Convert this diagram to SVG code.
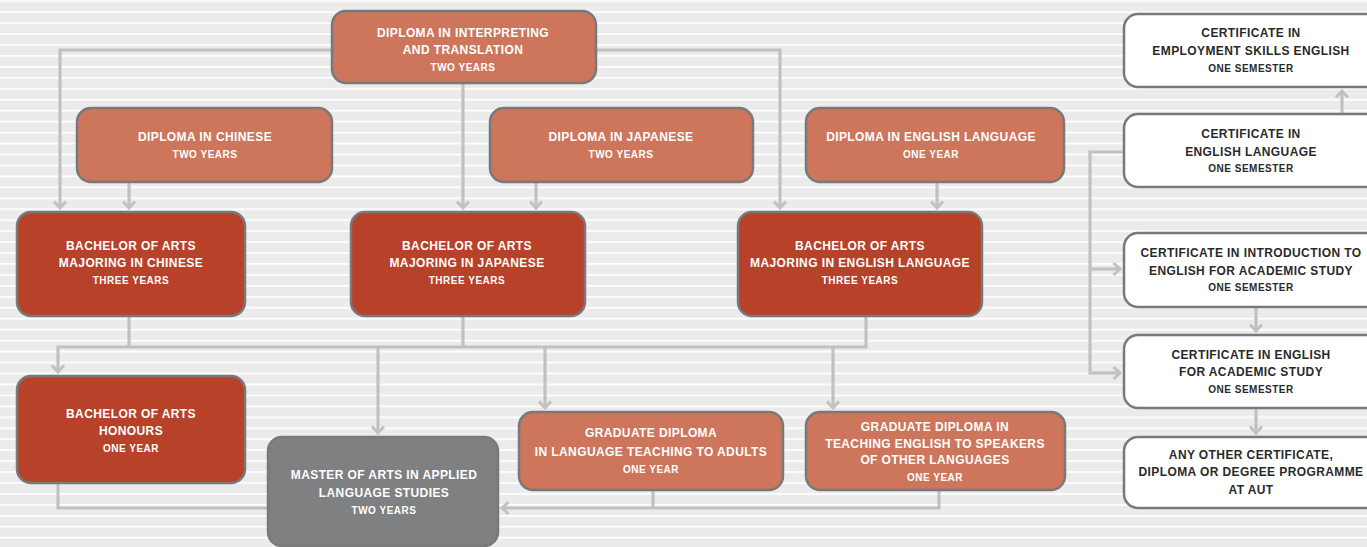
<svg xmlns="http://www.w3.org/2000/svg" width="1367" height="547" viewBox="0 0 1367 547">
<defs>
<pattern id="stripes" x="0" y="0.3" width="20" height="10.95" patternUnits="userSpaceOnUse">
<rect width="20" height="10.95" fill="#ebebeb"/>
<rect y="0" width="20" height="1.7" fill="#ffffff"/>
</pattern>
<marker id="arr" viewBox="-9 -8 11 16" markerWidth="11" markerHeight="16" refX="0" refY="0" orient="auto" markerUnits="userSpaceOnUse">
<path d="M-6.5,-6 L0,0 L-6.5,6" fill="none" stroke="#c1c1c3" stroke-width="3"/>
</marker>
</defs>
<style>
.box{stroke:#77797b;stroke-width:2.5}
.light{fill:#cd765c}
.dark{fill:#b84129}
.gray{fill:#7f8082}
.white{fill:#ffffff}
.t{font-family:"Liberation Sans",Arial,sans-serif;font-weight:bold;text-anchor:middle;font-size:12px;letter-spacing:0.4px}
.s{font-family:"Liberation Sans",Arial,sans-serif;font-weight:bold;text-anchor:middle;font-size:10px;letter-spacing:0.5px}
.w{fill:#ffffff}
.k{fill:#2a2a2a}
.c{fill:none;stroke:#c1c1c3;stroke-width:3.2;stroke-linejoin:miter}
.a{marker-end:url(#arr)}
</style>
<rect width="1367" height="547" fill="url(#stripes)"/>

<g id="connectors">
<path class="c a" d="M332,50 H60 V208"/>
<path class="c a" d="M463,83 V208"/>
<path class="c a" d="M596,50 H780 V208"/>
<path class="c a" d="M129,182 V208"/>
<path class="c a" d="M536,182 V208"/>
<path class="c a" d="M937,182 V208"/>
<path class="c" d="M129,316 V347 M463,316 V347 M866,316 V347 M56.4,347 H867.6"/>
<path class="c a" d="M58,347 V372"/>
<path class="c a" d="M378,347 V433"/>
<path class="c a" d="M545,347 V408"/>
<path class="c a" d="M833,347 V408"/>
<path class="c" d="M58,483 V508 H270"/>
<path class="c" d="M653,490 V508 M939,490 V508"/>
<path class="c a" d="M940.6,508 H502"/>
<path class="c" d="M1126,152 H1090 V371.4"/>
<path class="c a" d="M1088.4,373 H1120"/>
<path class="c a" d="M1090,269 H1120"/>
<path class="c a" d="M1342,114 V91"/>
<path class="c a" d="M1256,307 V331"/>
<path class="c a" d="M1256,408 V433"/>
</g>

<g id="n-interp">
<rect class="box light" x="332" y="11" width="264" height="72" rx="14"/>
<text class="t w" x="463" y="37">DIPLOMA IN INTERPRETING</text>
<text class="t w" x="463" y="54">AND TRANSLATION</text>
<text class="s w" x="463" y="71">TWO YEARS</text>
</g>
<g id="n-dip-chinese">
<rect class="box light" x="77" y="108" width="255" height="74" rx="14"/>
<text class="t w" x="205" y="141">DIPLOMA IN CHINESE</text>
<text class="s w" x="205" y="158">TWO YEARS</text>
</g>
<g id="n-dip-japanese">
<rect class="box light" x="490" y="108" width="263" height="74" rx="14"/>
<text class="t w" x="621" y="141">DIPLOMA IN JAPANESE</text>
<text class="s w" x="621" y="158">TWO YEARS</text>
</g>
<g id="n-dip-english">
<rect class="box light" x="806" y="108" width="258" height="74" rx="14"/>
<text class="t w" x="931" y="141">DIPLOMA IN ENGLISH LANGUAGE</text>
<text class="s w" x="931" y="158">ONE YEAR</text>
</g>
<g id="n-ba-chinese">
<rect class="box dark" x="17" y="212" width="228" height="104" rx="14"/>
<text class="t w" x="131" y="250">BACHELOR OF ARTS</text>
<text class="t w" x="131" y="267">MAJORING IN CHINESE</text>
<text class="s w" x="131" y="284">THREE YEARS</text>
</g>
<g id="n-ba-japanese">
<rect class="box dark" x="351" y="212" width="234" height="104" rx="14"/>
<text class="t w" x="467" y="250">BACHELOR OF ARTS</text>
<text class="t w" x="467" y="267">MAJORING IN JAPANESE</text>
<text class="s w" x="467" y="284">THREE YEARS</text>
</g>
<g id="n-ba-english">
<rect class="box dark" x="738" y="212" width="244" height="104" rx="14"/>
<text class="t w" x="860" y="250">BACHELOR OF ARTS</text>
<text class="t w" x="860" y="267">MAJORING IN ENGLISH LANGUAGE</text>
<text class="s w" x="860" y="284">THREE YEARS</text>
</g>
<g id="n-ba-honours">
<rect class="box dark" x="17" y="376" width="228" height="107" rx="14"/>
<text class="t w" x="131" y="418">BACHELOR OF ARTS</text>
<text class="t w" x="131" y="435">HONOURS</text>
<text class="s w" x="131" y="452">ONE YEAR</text>
</g>
<g id="n-master">
<rect class="box gray" x="268" y="437" width="230" height="109" rx="14"/>
<text class="t w" x="384" y="479">MASTER OF ARTS IN APPLIED</text>
<text class="t w" x="384" y="497">LANGUAGE STUDIES</text>
<text class="s w" x="384" y="514">TWO YEARS</text>
</g>
<g id="n-gd-adults">
<rect class="box light" x="519" y="412" width="264" height="78" rx="14"/>
<text class="t w" x="651" y="437">GRADUATE DIPLOMA</text>
<text class="t w" x="651" y="456">IN LANGUAGE TEACHING TO ADULTS</text>
<text class="s w" x="651" y="473">ONE YEAR</text>
</g>
<g id="n-gd-tesol">
<rect class="box light" x="806" y="412" width="259" height="78" rx="14"/>
<text class="t w" x="935" y="431">GRADUATE DIPLOMA IN</text>
<text class="t w" x="935" y="448">TEACHING ENGLISH TO SPEAKERS</text>
<text class="t w" x="935" y="464">OF OTHER LANGUAGES</text>
<text class="s w" x="935" y="481">ONE YEAR</text>
</g>
<g id="n-cert-employment">
<rect class="box white" x="1124" y="14" width="256" height="73" rx="14"/>
<text class="t k" x="1251" y="37">CERTIFICATE IN</text>
<text class="t k" x="1251" y="55">EMPLOYMENT SKILLS ENGLISH</text>
<text class="s k" x="1251" y="72">ONE SEMESTER</text>
</g>
<g id="n-cert-english">
<rect class="box white" x="1124" y="114" width="256" height="73" rx="14"/>
<text class="t k" x="1251" y="138">CERTIFICATE IN</text>
<text class="t k" x="1251" y="156">ENGLISH LANGUAGE</text>
<text class="s k" x="1251" y="172">ONE SEMESTER</text>
</g>
<g id="n-cert-intro">
<rect class="box white" x="1124" y="233" width="256" height="74" rx="14"/>
<text class="t k" x="1251" y="257">CERTIFICATE IN INTRODUCTION TO</text>
<text class="t k" x="1251" y="275">ENGLISH FOR ACADEMIC STUDY</text>
<text class="s k" x="1251" y="291">ONE SEMESTER</text>
</g>
<g id="n-cert-eas">
<rect class="box white" x="1124" y="335" width="256" height="73" rx="14"/>
<text class="t k" x="1251" y="359">CERTIFICATE IN ENGLISH</text>
<text class="t k" x="1251" y="376">FOR ACADEMIC STUDY</text>
<text class="s k" x="1251" y="393">ONE SEMESTER</text>
</g>
<g id="n-other">
<rect class="box white" x="1124" y="437" width="256" height="71" rx="14"/>
<text class="t k" x="1251" y="459">ANY OTHER CERTIFICATE,</text>
<text class="t k" x="1251" y="476">DIPLOMA OR DEGREE PROGRAMME</text>
<text class="t k" x="1251" y="494">AT AUT</text>
</g>
</svg>
